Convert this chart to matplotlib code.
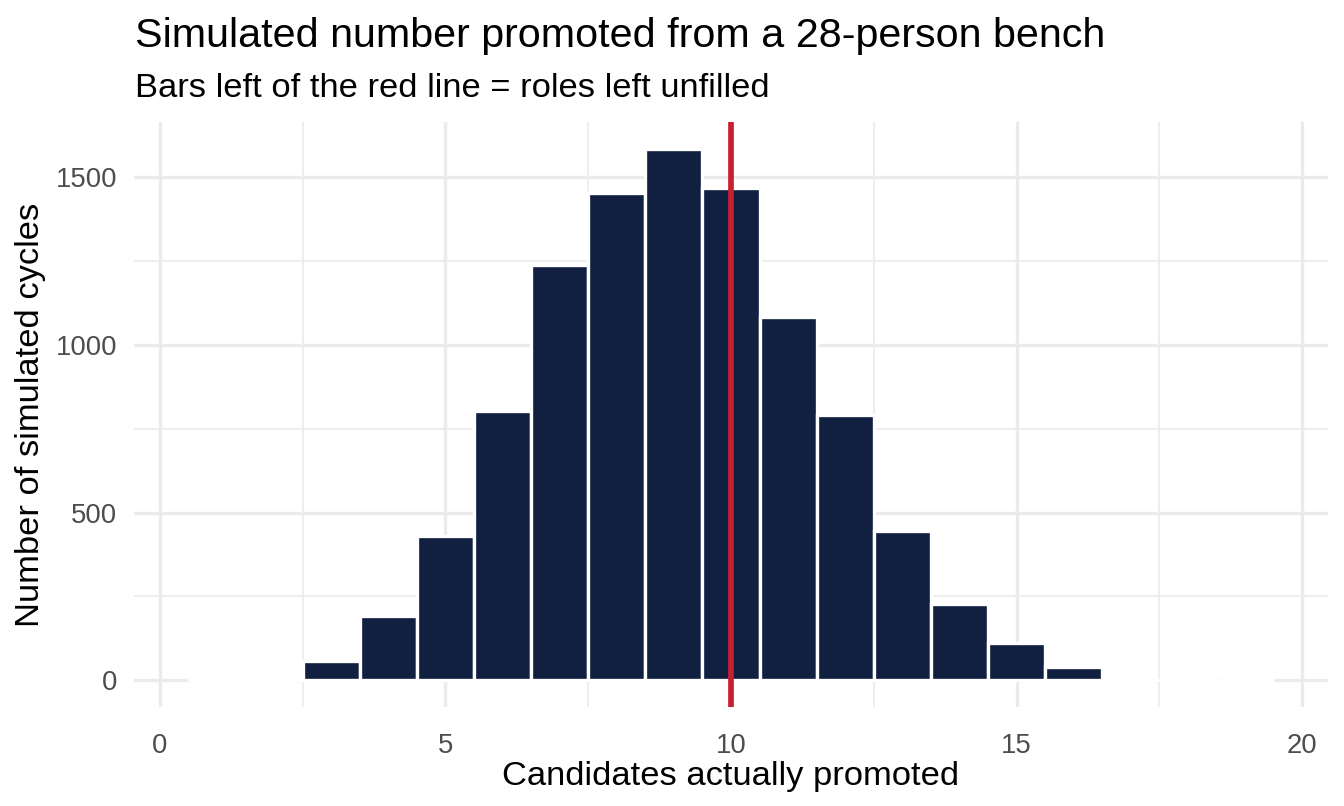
import matplotlib.pyplot as plt
from matplotlib.ticker import MultipleLocator

# Histogram counts (binwidth 1, centred on integers)
promoted = [1, 2, 3, 4, 5, 6, 7, 8, 9, 10, 11, 12, 13, 14, 15, 16, 17, 18, 19]
cycles = [0, 10, 57, 192, 431, 803, 1238, 1453, 1585, 1467, 1083, 792, 446, 228, 111, 38, 0, 0, 0]
roles_open = 10

title = "Simulated number promoted from a 28-person bench"
subtitle = "Bars left of the red line = roles left unfilled"
x_label = "Candidates actually promoted"
y_label = "Number of simulated cycles"

plt.rcParams['font.family'] = ['Liberation Sans', 'DejaVu Sans']

fig = plt.figure(figsize=(13.44, 8.06), dpi=100)
ax = fig.add_axes([0.0997, 0.1228, 0.8884, 0.7258])

grid_col = '#EBEBEB'
ax.xaxis.set_major_locator(MultipleLocator(5))
ax.xaxis.set_minor_locator(MultipleLocator(2.5))
ax.yaxis.set_major_locator(MultipleLocator(500))
ax.yaxis.set_minor_locator(MultipleLocator(250))
ax.grid(which='major', color=grid_col, linewidth=2.4)
ax.grid(which='minor', color=grid_col, linewidth=1.2)
ax.set_axisbelow(True)

ax.bar(promoted, cycles, width=1.0, color='#111F40', edgecolor='white', linewidth=2.4)
ax.axvline(roles_open, color='#C8202F', linewidth=4.1)

ax.set_xlim(-0.45, 20.45)
ax.set_ylim(-80, 1665)

for side in ax.spines.values():
    side.set_visible(False)
ax.tick_params(which='both', length=0)
ax.tick_params(axis='x', pad=19, labelsize=19.8, labelcolor='#4D4D4D')
ax.tick_params(axis='y', pad=12, labelsize=19.8, labelcolor='#4D4D4D')

ax.set_xlabel(x_label, fontsize=24.8, va='baseline')
ax.xaxis.set_label_coords(0.5, -0.134)
ax.set_ylabel(y_label, fontsize=24.8, ha='center', va='top')
ax.yaxis.set_label_coords(-0.0997, 0.5)

fig.text(0.1005, 0.9417, title, fontsize=29.7, va='baseline', ha='left')
fig.text(0.1005, 0.8797, subtitle, fontsize=24.8, va='baseline', ha='left')

fig.savefig('out.png', dpi=100)
